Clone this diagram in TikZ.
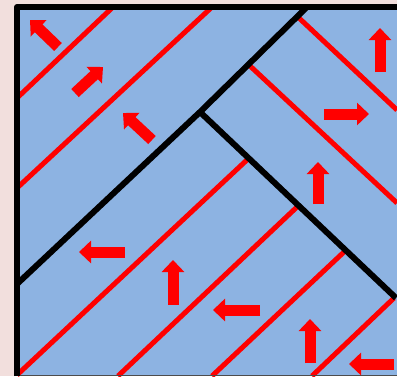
\documentclass[tikz,border=0pt]{standalone}
\usetikzlibrary{arrows.meta}
\definecolor{bgpink}{HTML}{F2DFDD}
\definecolor{fillblue}{HTML}{8DB3E2}
\definecolor{redline}{HTML}{FF0000}
\tikzset{
  blackedge/.style={line width=6pt, black, line cap=butt},
  redseam/.style={line width=5pt, redline},
  blockarrow/.style={line width=11pt, redline, -{Triangle[width=22pt,length=12pt]}},
}
\begin{document}
\begin{tikzpicture}[x=1pt,y=-1pt]
\useasboundingbox (0,0) rectangle (397,376);
\fill[bgpink] (0,0) rectangle (397,376);
\fill[fillblue] (17,7) rectangle (397,376);
% red seams
\coordinate (r1a) at (17,98);  \coordinate (r1b) at (113,7);
\coordinate (r2a) at (17,188); \coordinate (r2b) at (212,7);
\coordinate (r3a) at (299,18); \coordinate (r3b) at (397,110);
\coordinate (r4a) at (249,65); \coordinate (r4b) at (397,203);
\coordinate (r5a) at (17,375); \coordinate (r5b) at (249,158);
\coordinate (r6a) at (118,376); \coordinate (r6b) at (298,206);
\coordinate (r7a) at (212,376); \coordinate (r7b) at (345,251);
\coordinate (r8a) at (312,376); \coordinate (r8b) at (394,298);
\foreach \i in {1,...,8} {\draw[redseam] (r\i a) -- (r\i b);}
% black lines
\coordinate (ja) at (17,284);
\coordinate (jm) at (200,112);
\coordinate (jt) at (307,7);
\coordinate (jr) at (396,298);
\draw[blackedge, line join=miter] (ja) -- (jm) -- (jt);
\draw[blackedge] (jm) -- (jr);
\draw[line width=1pt, black!70] (17,375.5) -- (397,375.5);
\draw[blackedge, line join=round] (17,376) -- (17,7) -- (397,7);
% block arrows
\coordinate (a1s) at (58,47);   \coordinate (a1e) at (30,20);
\coordinate (a2s) at (75,93);   \coordinate (a2e) at (103,67);
\coordinate (a3s) at (152,140); \coordinate (a3e) at (123,113);
\coordinate (a4s) at (380,72);  \coordinate (a4e) at (380,28);
\coordinate (a5s) at (324,114); \coordinate (a5e) at (369,114);
\coordinate (a6s) at (318,204); \coordinate (a6e) at (318,162);
\coordinate (a7s) at (125,252); \coordinate (a7e) at (79,252);
\coordinate (a8s) at (173,305); \coordinate (a8e) at (173,260);
\coordinate (a9s) at (260,310); \coordinate (a9e) at (213,310);
\coordinate (a10s) at (310,363); \coordinate (a10e) at (310,319);
\coordinate (a11s) at (394,364); \coordinate (a11e) at (349,364);
\foreach \i in {1,...,11} {\draw[blockarrow] (a\i s) -- (a\i e);}
\end{tikzpicture}
\end{document}
